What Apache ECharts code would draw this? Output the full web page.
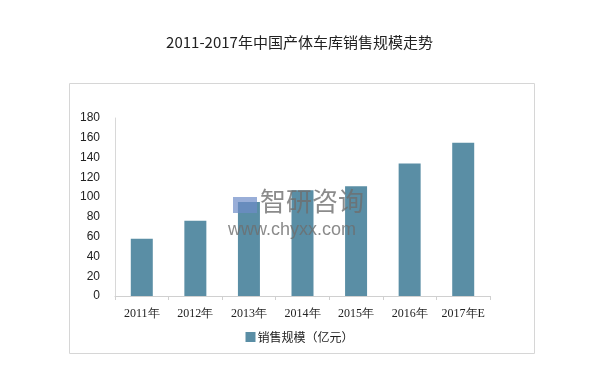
<!DOCTYPE html>
<html><head><meta charset="utf-8">
<script src="https://cdn.jsdelivr.net/npm/echarts@6/dist/echarts.min.js"></script>
<style>html,body{margin:0;padding:0;background:#fff}#c{width:599px;height:379px}</style>
</head><body><div id="c"></div>
<script>
var categories = ['2011年','2012年','2013年','2014年','2015年','2016年','2017年E'];
var salesValues = [58, 76, 95, 107, 111, 134, 155];
var yTicks = [0, 20, 40, 60, 80, 100, 120, 140, 160, 180];
var seriesName = '销售规模（亿元）';
var titleText = '2011-2017年中国产体车库销售规模走势';

var chart = echarts.init(document.getElementById('c'), null, {renderer:'canvas'});
chart.setOption({
  animation: false,
  backgroundColor: '#fff',
  title: {
    text: titleText, left: 'center', top: 30,
    textStyle: {fontFamily: 'Noto Sans CJK SC', fontSize: 15, fontWeight: 'normal', color: '#222'}
  },
  grid: {left: 115, right: 109, top: 118, bottom: 83},
  legend: {
    data: [seriesName], left: 'center', top: 326, itemWidth: 10, itemHeight: 10,
    icon: 'rect', itemGap: 4,
    textStyle: {fontFamily: 'Noto Sans CJK SC', fontSize: 12, color: '#222', padding: [0,0,0,-3]}
  },
  xAxis: {
    type: 'category', data: categories,
    axisLine: {lineStyle: {color: '#d0d0d0'}},
    axisTick: {show: true, length: 4, lineStyle: {color: '#d0d0d0'}},
    axisLabel: {interval: 0, fontFamily: 'Liberation Serif', fontSize: 12, color: '#222', margin: 12}
  },
  yAxis: {
    type: 'value', min: yTicks[0], max: yTicks[yTicks.length-1], interval: 20,
    axisLine: {show: true, lineStyle: {color: '#d8d8d8'}},
    axisTick: {show: false},
    splitLine: {show: false},
    axisLabel: {fontFamily: 'Liberation Sans', fontSize: 12, color: '#222', margin: 15}
  },
  series: [{
    name: seriesName, type: 'bar', data: salesValues,
    barWidth: 22,
    itemStyle: {color: '#5a8ea5'}
  }],
  graphic: [
    {type: 'rect', left: 67, top: 81, shape: {width: 465, height: 270}, silent: true,
     style: {fill: 'none', stroke: '#d6d6d6', lineWidth: 1}},
    {type: 'text', left: 260, top: 188, z: 100, silent: true,
     style: {text: '智研咨询', fontFamily: 'Noto Sans CJK SC', fontSize: 26, fill: 'rgba(110,110,110,0.8)'}},
    {type: 'text', left: 228, top: 221, z: 100, silent: true,
     style: {text: 'www.chyxx.com', fontFamily: 'Liberation Sans', fontSize: 18, fill: 'rgba(110,110,110,0.8)'}},
    {type: 'rect', left: 233, top: 197, z: 100, silent: true, shape: {width: 24, height: 16},
     style: {fill: 'rgba(110,140,200,0.7)'}}
  ]
});
</script></body></html>
